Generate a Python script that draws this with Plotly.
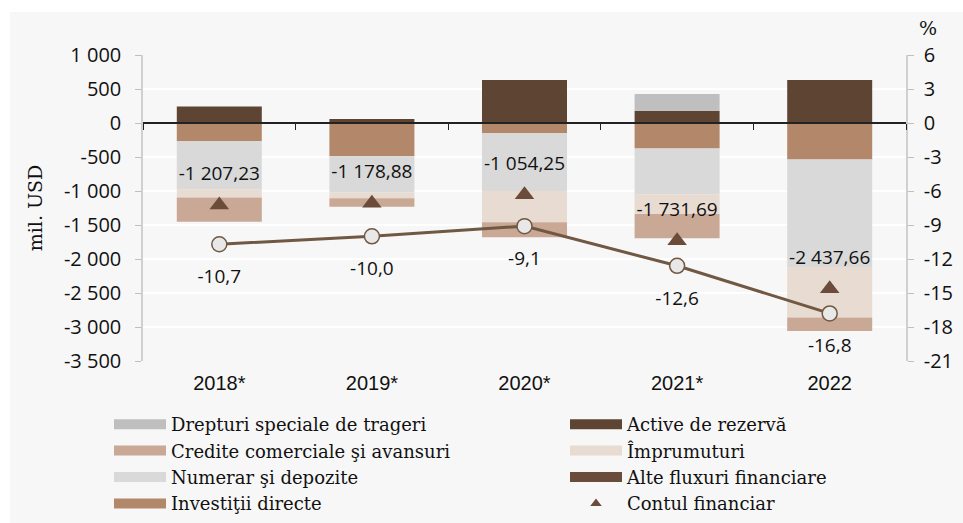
import plotly.graph_objects as go

# ---------------- data ----------------
categories = ["2018*", "2019*", "2020*", "2021*", "2022"]

drepturi_speciale = [0, 0, 0, 248, 0]
active_rezerva = [243, 58, 633, 180, 633]
credite_comerciale = [-356, -127, -219, -355, -201]
imprumuturi = [-121, -83, -462, -292, -740]
numerar_depozite = [-706, -535, -853, -673, -1583]
alte_fluxuri = [0, 0, 0, 0, 0]
investitii_directe = [-269, -488, -146, -375, -536]

contul_financiar = [-1207.23, -1178.88, -1054.25, -1731.69, -2437.66]
contul_pct = [-10.7, -10.0, -9.1, -12.6, -16.8]

left_ticks = [1000, 500, 0, -500, -1000, -1500, -2000, -2500, -3000, -3500]
right_ticks = [6, 3, 0, -3, -6, -9, -12, -15, -18, -21]

# ---------------- styles ----------------
C_DST = "#bfbfbf"
C_ACTIVE = "#5e4533"
C_CREDITE = "#c9a895"
C_IMPR = "#e8dbd1"
C_NUMERAR = "#d9d9d9"
C_ALTE = "#6b4c3a"
C_INVEST = "#b3876a"
C_TRI = "#6b4c3a"
C_LINE = "#705843"

NUM_FONT = "Open Sans, Liberation Sans, sans-serif"
CAT_FONT = "Liberation Sans, Open Sans, sans-serif"
SERIF = "DejaVu Serif, Liberation Serif, serif"


def fmt(v, dec=0):
    s = f"{abs(v):,.{dec}f}".replace(",", " ").replace(".", ",")
    return ("-" if v < 0 else "") + s


fig = go.Figure()

# stacked bars (order = stacking order from zero outward)
bar_series = [
    ("Investiţii directe", investitii_directe, C_INVEST),
    ("Numerar şi depozite", numerar_depozite, C_NUMERAR),
    ("Împrumuturi", imprumuturi, C_IMPR),
    ("Credite comerciale şi avansuri", credite_comerciale, C_CREDITE),
    ("Active de rezervă", active_rezerva, C_ACTIVE),
    ("Alte fluxuri financiare", alte_fluxuri, C_ALTE),
    ("Drepturi speciale de trageri", drepturi_speciale, C_DST),
]
for name, vals, col in bar_series:
    fig.add_trace(go.Bar(
        x=categories, y=vals, name=name, marker=dict(color=col, line=dict(width=0)),
        showlegend=False, hoverinfo="skip",
    ))

# financial account triangles
fig.add_trace(go.Scatter(
    x=categories, y=contul_financiar, mode="markers", name="Contul financiar",
    marker=dict(symbol="triangle-up", size=17, color=C_TRI), showlegend=False,
))
# labels of the financial account (invisible marker to offset the text)
fig.add_trace(go.Scatter(
    x=categories, y=contul_financiar, mode="markers+text",
    marker=dict(size=31, opacity=0), text=[fmt(v, 2) for v in contul_financiar],
    textposition="top center", textfont=dict(family=NUM_FONT, size=19, color="#111"),
    showlegend=False, hoverinfo="skip",
))

# % line on right axis
fig.add_trace(go.Scatter(
    x=categories, y=contul_pct, yaxis="y2", mode="lines+markers",
    line=dict(color=C_LINE, width=3),
    marker=dict(symbol="circle", size=15, color="#e8e8e8", line=dict(color=C_LINE, width=1.5)),
    showlegend=False,
))
fig.add_trace(go.Scatter(
    x=categories, y=contul_pct, yaxis="y2", mode="markers+text",
    marker=dict(size=38, opacity=0), text=[fmt(v, 1) for v in contul_pct],
    textposition="bottom center", textfont=dict(family=NUM_FONT, size=19, color="#111"),
    showlegend=False, hoverinfo="skip",
))

# helper trace so the zero-line axis (x2) is drawn
fig.add_trace(go.Scatter(x=[None], y=[None], xaxis="x2", showlegend=False, hoverinfo="skip"))

# legend proxies
legend_col1 = [
    ("Drepturi speciale de trageri", C_DST),
    ("Credite comerciale şi avansuri", C_CREDITE),
    ("Numerar şi depozite", C_NUMERAR),
    ("Investiţii directe", C_INVEST),
]
legend_col2 = [
    ("Active de rezervă", C_ACTIVE),
    ("Împrumuturi", C_IMPR),
    ("Alte fluxuri financiare", C_ALTE),
]
for name, col in legend_col1:
    fig.add_trace(go.Scatter(x=[None], y=[None], mode="lines", name=name,
                             line=dict(color=col, width=10), legend="legend"))
for name, col in legend_col2:
    fig.add_trace(go.Scatter(x=[None], y=[None], mode="lines", name=name,
                             line=dict(color=col, width=10), legend="legend2"))
fig.add_trace(go.Scatter(x=[None], y=[None], mode="markers", name="Contul financiar",
                         marker=dict(symbol="triangle-up", size=10, color=C_TRI), legend="legend2"))

y_lo, y_hi = min(left_ticks), max(left_ticks)
zero_pos = (0 - y_lo) / (y_hi - y_lo)

LEG_FONT = dict(family=SERIF, size=18, color="#111")
LEG_Y = (361 - 406) / 306

fig.update_layout(
    width=963, height=523,
    margin=dict(l=143, r=57, t=55, b=162, autoexpand=False),
    paper_bgcolor="#ffffff", plot_bgcolor="#f7f7f7",
    barmode="relative", bargap=0.443,
    font=dict(family=NUM_FONT, size=19, color="#111"),
    xaxis=dict(
        type="category", showline=False, ticks="", showgrid=False, zeroline=False,
        tickfont=dict(family=CAT_FONT, size=20, color="#111"), ticklabelstandoff=8,
    ),
    xaxis2=dict(
        overlaying="x", anchor="free", position=zero_pos, range=[-0.5, len(categories) - 0.5],
        tickmode="array", tickvals=[i - 0.5 for i in range(len(categories) + 1)],
        ticks="outside", ticklen=6, tickcolor="#222", tickwidth=1.3,
        showline=True, linecolor="#222", linewidth=1.5, showticklabels=False,
        showgrid=False, zeroline=False,
    ),
    yaxis=dict(
        range=[y_lo, y_hi], tickmode="array", tickvals=left_ticks,
        ticktext=[fmt(v) for v in left_ticks], ticks="outside", ticklen=6,
        tickcolor="#bfbfbf", showline=True, linecolor="#d0d0d0", linewidth=1.5,
        showgrid=True, gridcolor="#ffffff", gridwidth=2, zeroline=False,
        tickfont=dict(family=NUM_FONT, size=20, color="#111"), ticklabelstandoff=10,
        title=dict(text="mil. USD", font=dict(family=SERIF, size=19, color="#111"), standoff=16),
    ),
    yaxis2=dict(
        overlaying="y", side="right", anchor="x", range=[min(right_ticks), max(right_ticks)],
        tickmode="array", tickvals=right_ticks, ticktext=[fmt(v) for v in right_ticks],
        ticks="outside", ticklen=6, tickcolor="#bfbfbf", showline=True,
        linecolor="#d0d0d0", linewidth=1.5, showgrid=False, zeroline=False,
        tickfont=dict(family=NUM_FONT, size=20, color="#111"), ticklabelstandoff=6,
    ),
    legend=dict(
        x=(109 - 143) / 763, y=LEG_Y, xanchor="left", yanchor="top",
        orientation="v", bgcolor="rgba(0,0,0,0)", itemwidth=52,
        font=LEG_FONT, tracegroupgap=0,
    ),
    legend2=dict(
        x=(565 - 143) / 763, y=LEG_Y, xanchor="left", yanchor="top",
        orientation="v", bgcolor="rgba(0,0,0,0)", itemwidth=52,
        font=LEG_FONT, tracegroupgap=0,
    ),
    annotations=[dict(
        text="%", xref="paper", yref="paper", x=1, y=1, xanchor="center", yanchor="bottom",
        xshift=22, yshift=14, showarrow=False, font=dict(family=SERIF, size=19, color="#111"),
    )],
    shapes=[dict(
        type="rect", xref="paper", yref="paper", layer="below",
        x0=(10 - 143) / 763, x1=(963 - 143) / 763, y0=(361 - 523) / 306, y1=(361 - 12) / 306,
        fillcolor="#f7f7f7", line=dict(width=0),
    )],
)

fig.write_html(
    "out.html",
    config={"displayModeBar": False},
    post_script="document.body.style.margin='0';",
)
